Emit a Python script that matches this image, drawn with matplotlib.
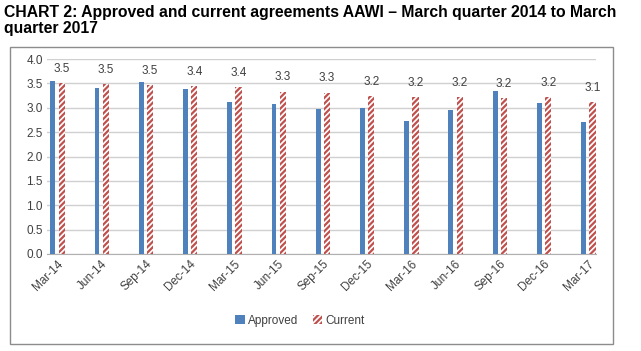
import matplotlib
matplotlib.use("Agg")
import matplotlib.pyplot as plt
import matplotlib.patches as patches
import numpy as np

quarters = ["Mar-14", "Jun-14", "Sep-14", "Dec-14", "Mar-15", "Jun-15", "Sep-15",
            "Dec-15", "Mar-16", "Jun-16", "Sep-16", "Dec-16", "Mar-17"]
approved = [3.55, 3.40, 3.52, 3.39, 3.11, 3.08, 2.97, 2.99, 2.73, 2.96, 3.35, 3.10, 2.70]
current = [3.50, 3.49, 3.47, 3.44, 3.42, 3.33, 3.31, 3.24, 3.22, 3.22, 3.19, 3.22, 3.11]

plt.rcParams['font.family'] = ['Liberation Sans', 'DejaVu Sans']
plt.rcParams['hatch.linewidth'] = 1.6

fig = plt.figure(figsize=(6.41, 3.51), dpi=100)

# chart area border
fig.patches.append(patches.Rectangle((10 / 641, 1 - 344 / 351), 603 / 641, 297 / 351,
                                     transform=fig.transFigure, fill=False,
                                     edgecolor="#8c8c8c", linewidth=1.0))

fig.text(0.006, 0.985, "CHART 2: Approved and current agreements AAWI \u2013 March quarter 2014 to March\nquarter 2017",
         fontsize=11.3, fontweight="bold", va="top", ha="left", linespacing=1.05)

ax = fig.add_axes([47 / 641, 1 - 254 / 351, 549 / 641, 195 / 351])

x = np.arange(len(quarters))
ax.bar(x - 0.1, approved, width=0.11, color="#4f81bd", label="Approved", zorder=3)
ax.bar(x + 0.1, current, width=0.14, color="white", edgecolor="#c0504d", hatch="//////",
       linewidth=0, label="Current", zorder=3)

for xi, v in zip(x, current):
    ax.annotate(f"{v:.1f}", (xi + 0.1, v), xytext=(0, 6), textcoords="offset points",
                ha="center", va="bottom", fontsize=8.5, color="#404040")

ax.set_ylim(0, 4.0)
ax.set_yticks(np.arange(0, 4.01, 0.5))
ax.set_yticklabels([f"{t:.1f}" for t in np.arange(0, 4.01, 0.5)], fontsize=8.5, color="#404040")
ax.set_xlim(-0.23, 12.18)
ax.set_xticks(x)
ax.set_xticklabels(quarters, rotation=45, ha="right", rotation_mode="anchor",
                   fontsize=8.5, color="#404040")
ax.tick_params(axis="both", length=0, pad=3)
ax.grid(axis="y", color="#d0d0d0", linewidth=1.0, zorder=0)
for s in ["top", "right", "left"]:
    ax.spines[s].set_visible(False)
ax.spines["bottom"].set_color("#b0b0b0")

fig.legend(loc="center", bbox_to_anchor=(300 / 641, 1 - 321 / 351), ncol=2, frameon=False,
           fontsize=8.5, handlelength=0.8, handleheight=0.8, handletextpad=0.3,
           columnspacing=1.2, labelcolor="#404040")

fig.savefig("out.png", dpi=100)
